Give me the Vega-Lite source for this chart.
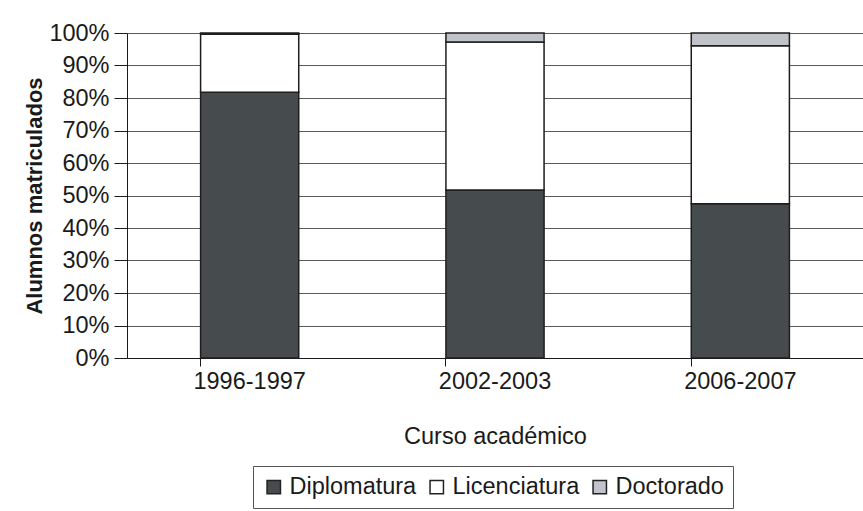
{
  "$schema": "https://vega.github.io/schema/vega-lite/v6.json",
  "width": 736,
  "height": 325,
  "autosize": {"type": "none"},
  "padding": {"left": 127, "top": 33, "right": 0, "bottom": 153},
  "background": "#ffffff",
  "config": {
    "font": "Liberation Sans",
    "view": {"stroke": null},
    "axis": {"labelColor": "#1a1a1a", "titleColor": "#1a1a1a", "labelFont": "Liberation Sans", "titleFont": "Liberation Sans"}
  },
  "data": {
    "values": [
      {"curso": "1996-1997", "nivel": "Diplomatura", "orden": 1, "pct": 81.8},
      {"curso": "1996-1997", "nivel": "Licenciatura", "orden": 2, "pct": 17.8},
      {"curso": "1996-1997", "nivel": "Doctorado", "orden": 3, "pct": 0.4},
      {"curso": "2002-2003", "nivel": "Diplomatura", "orden": 1, "pct": 51.7},
      {"curso": "2002-2003", "nivel": "Licenciatura", "orden": 2, "pct": 45.5},
      {"curso": "2002-2003", "nivel": "Doctorado", "orden": 3, "pct": 2.8},
      {"curso": "2006-2007", "nivel": "Diplomatura", "orden": 1, "pct": 47.5},
      {"curso": "2006-2007", "nivel": "Licenciatura", "orden": 2, "pct": 48.6},
      {"curso": "2006-2007", "nivel": "Doctorado", "orden": 3, "pct": 3.9}
    ]
  },
  "mark": {"type": "bar", "stroke": "#1e1e1e", "strokeWidth": 1.5},
  "encoding": {
    "x": {
      "field": "curso",
      "type": "nominal",
      "scale": {"paddingInner": 0.6, "paddingOuter": 0.3},
      "axis": {
        "title": "Curso académico",
        "labelAngle": 0,
        "labelFontSize": 23.5,
        "titleFontSize": 23.5,
        "titleFontWeight": "normal",
        "labelPadding": 3,
        "titlePadding": 32,
        "bandPosition": 0,
        "tickSize": 8,
        "tickColor": "#1a1a1a",
        "domainColor": "#1a1a1a",
        "grid": false
      }
    },
    "y": {
      "field": "pct",
      "type": "quantitative",
      "stack": "normalize",
      "scale": {"domain": [0, 1]},
      "axis": {
        "title": "Alumnos matriculados",
        "format": ".0%",
        "values": [0, 0.1, 0.2, 0.3, 0.4, 0.5, 0.6, 0.7, 0.8, 0.9, 1],
        "labelFontSize": 23.5,
        "titleFontSize": 22,
        "titleFontWeight": "bold",
        "labelPadding": 5,
        "titlePadding": 2,
        "tickSize": 13,
        "tickColor": "#1a1a1a",
        "domainColor": "#1a1a1a",
        "grid": true,
        "gridColor": "#5a5a5a",
        "gridOpacity": 1
      }
    },
    "color": {
      "field": "nivel",
      "type": "nominal",
      "scale": {"domain": ["Diplomatura", "Licenciatura", "Doctorado"], "range": ["#464c4e", "#ffffff", "#c0c3c9"]},
      "legend": {
        "title": null,
        "orient": "none",
        "legendX": 126,
        "legendY": 433,
        "direction": "horizontal",
        "strokeColor": "#555555",
        "padding": 9,
        "labelFontSize": 23.5,
        "labelColor": "#1a1a1a",
        "labelFont": "Liberation Sans",
        "symbolType": "square",
        "symbolSize": 180,
        "symbolStrokeColor": "#222222",
        "symbolStrokeWidth": 1.5,
        "symbolOpacity": 1,
        "columnPadding": 8,
        "labelOffset": 4
      }
    },
    "order": {"field": "orden", "type": "quantitative"}
  }
}
